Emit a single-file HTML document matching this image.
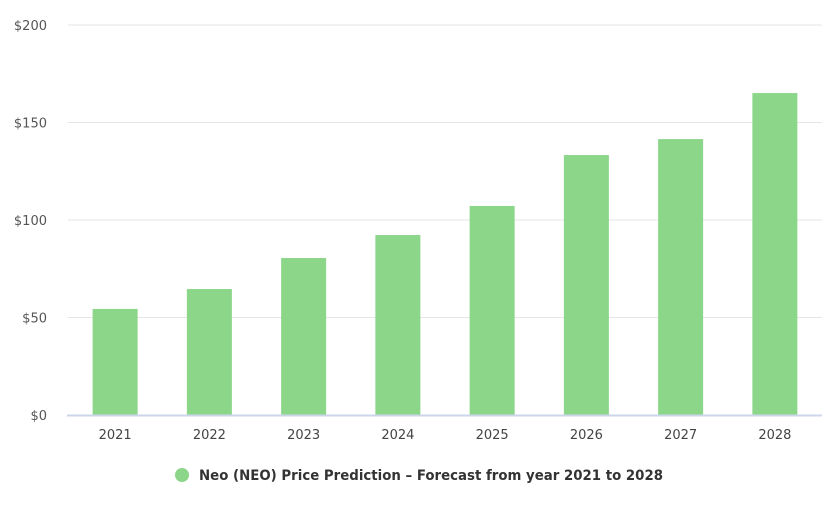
<!DOCTYPE html>
<html><head><meta charset="utf-8"><style>
body{margin:0;background:#fff;width:830px;height:507px;overflow:hidden;font-family:"DejaVu Sans","Liberation Sans",sans-serif}
</style></head><body>
<svg id="chart" width="830" height="507" xmlns="http://www.w3.org/2000/svg"></svg>
<script>
const categories=["2021","2022","2023","2024","2025","2026","2027","2028"];
const prices=[54.4,64.6,80.5,92.3,107.2,133.3,141.5,165.1];
const yTicks=[0,50,100,150,200];
const yTickLabels=["$0","$50","$100","$150","$200"];
const svg=document.getElementById('chart');
const NS='http://www.w3.org/2000/svg';
const L=68,R=822,T=25,B=415,yMax=200;
const y=v=>B-(v/yMax)*(B-T);
const bw=(R-L)/categories.length;
const x=i=>L+bw*(i+0.5);
function mk(t,a,txt){const e=document.createElementNS(NS,t);for(const k in a)e.setAttribute(k,a[k]);if(txt!=null)e.textContent=txt;svg.appendChild(e);return e;}
yTicks.forEach((v,i)=>{
 if(v>0){const g=mk('line',{x1:L,x2:R,y1:y(v),y2:y(v),stroke:'#e6e6e6','stroke-width':1});
 
 }
 const t=mk('text',{x:47,y:y(v)+5,'text-anchor':'end','font-size':13,fill:'#555'},yTickLabels[i]);
 
 
});
categories.forEach((c,i)=>{
 const r=mk('rect',{x:x(i)-22.5,y:y(prices[i]),width:45,height:B-y(prices[i]),fill:'#8cd68a'});
 
 
 const t=mk('text',{x:x(i),y:439,'text-anchor':'middle','font-size':13,fill:'#444'},c);
 
 
});
const ax=mk('line',{x1:L-1,x2:R,y1:B+0.5,y2:B+0.5,stroke:'#ccd6eb','stroke-width':2});


const dot=mk('circle',{cx:182,cy:475,r:7,fill:'#8cd68a'});


const lt=mk('text',{x:199,y:480,'font-size':14,'font-weight':'bold',fill:'#333',textLength:464,lengthAdjust:'spacingAndGlyphs'},'Neo (NEO) Price Prediction – Forecast from year 2021 to 2028');


</script>
</body></html>
